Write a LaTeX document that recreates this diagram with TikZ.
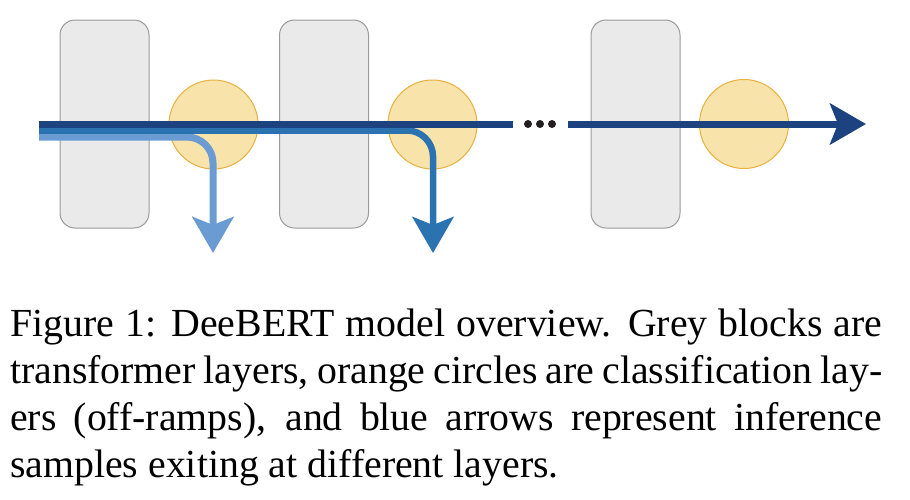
\documentclass[tikz,border=0pt]{standalone}
\usepackage{fontspec}
\setmainfont{Liberation Serif}
\usetikzlibrary{arrows.meta}
\definecolor{blockfill}{HTML}{EAEAEA}
\definecolor{blockdraw}{HTML}{9A9A9A}
\definecolor{circfill}{HTML}{F8E4AA}
\definecolor{circdraw}{HTML}{E8B040}
\definecolor{navy}{HTML}{1C4380}
\definecolor{midblue}{HTML}{2A72B0}
\definecolor{lightblue}{HTML}{6A9BD3}
\definecolor{dotcol}{HTML}{231F20}
\tikzset{
  layerblock/.style={draw=blockdraw, fill=blockfill, line width=1pt, rounded corners=15pt, minimum width=89pt, minimum height=208pt, inner sep=0pt},
  offramp/.style={circle, draw=circdraw, fill=circfill, line width=1pt, minimum size=89pt, inner sep=0pt},
  flow/.style={line width=7pt, line cap=butt, rounded corners=26pt},
  tipA/.style={-{Stealth[length=36pt, width=41pt, inset=8pt]}},
  dotmark/.style={circle, fill=dotcol, minimum size=8pt, inner sep=0pt},
  captionline/.style={anchor=base west, inner sep=0pt, font=\fontsize{39.8}{47.5}\selectfont}
}
\begin{document}
\begin{tikzpicture}[x=1pt, y=-1pt]
\useasboundingbox (0,0) rectangle (910,499);
% blocks and circles
\node[layerblock] (b1) at (104.5,124) {};
\node[layerblock] (b2) at (324,124) {};
\node[layerblock] (b3) at (635.5,124) {};
\node[offramp] (c1) at (213.5,124.5) {};
\node[offramp] (c2) at (432.5,124.5) {};
\node[offramp] (c3) at (744,124) {};
% coordinates
\coordinate (lstart) at (39,137);
\coordinate (lcorner) at (213,137);
\coordinate (lend) at (213,253);
\coordinate (mstart) at (39,130.5);
\coordinate (mcorner) at (433,130.5);
\coordinate (mend) at (433,253);
\coordinate (nstart) at (39,124);
\coordinate (nbreak) at (513,124);
\coordinate (nresume) at (568,124);
\coordinate (nend) at (866,124);
% flows
\draw[flow, lightblue, tipA] (lstart) -- (lcorner) -- (lend);
\draw[flow, midblue, line width=6.5pt, tipA] (mstart) -- (mcorner) -- (mend);
\draw[flow, navy] (nstart) -- (nbreak);
\draw[flow, navy, tipA] (nresume) -- (nend);
\node[dotmark] (d1) at (528,124) {};
\node[dotmark] (d2) at (540,124) {};
\node[dotmark] (d3) at (552,124) {};
% caption
\node[captionline] (t1) at (10,336.5) {\makebox[872pt][s]{Figure 1: DeeBERT model overview. Grey blocks are}};
\node[captionline] (t2) at (10,383.5) {\makebox[872pt][s]{transformer layers, orange circles are classification lay-}};
\node[captionline] (t3) at (10,430.5) {\makebox[872pt][s]{ers (off-ramps), and blue arrows represent inference}};
\node[captionline] (t4) at (10,477.5) {samples exiting at different layers.};
\end{tikzpicture}
\end{document}
